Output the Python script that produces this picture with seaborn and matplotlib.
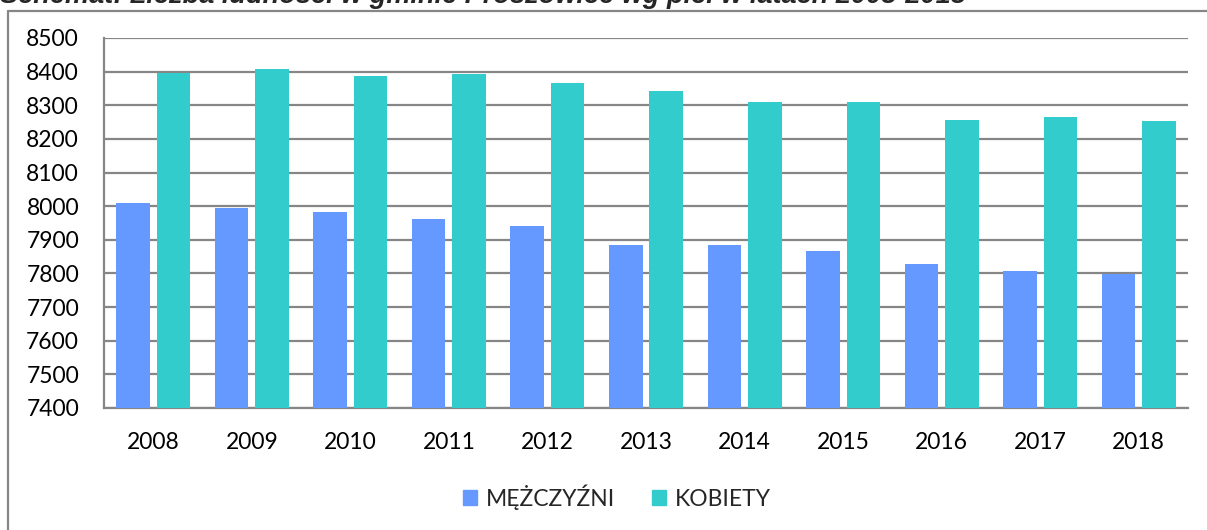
import numpy as np
import pandas as pd
import matplotlib.pyplot as plt
import seaborn as sns
from matplotlib.lines import Line2D

# dane
lata = ['2008', '2009', '2010', '2011', '2012', '2013', '2014', '2015', '2016', '2017', '2018']
mezczyzni = [8009, 7994, 7982, 7961, 7940, 7885, 7885, 7868, 7827, 7806, 7799]
kobiety = [8397, 8407, 8387, 8393, 8367, 8341, 8309, 8311, 8255, 8266, 8254]
serie = ['MĘŻCZYŹNI', 'KOBIETY']
kolory = ['#6699FF', '#33CCCC']

df = pd.DataFrame({'rok': lata * 2,
                   'plec': [serie[0]] * len(lata) + [serie[1]] * len(lata),
                   'liczba': mezczyzni + kobiety})

sns.set_style('white')
plt.rcParams['font.family'] = ['Lato', 'DejaVu Sans']

fig = plt.figure(figsize=(12.07, 5.30), dpi=100)
ax = fig.add_axes([104 / 1207, 122 / 530, (1188 - 104) / 1207, (408 - 38) / 530])

sns.barplot(data=df, x='rok', y='liczba', hue='plec', palette=kolory,
            width=0.82, gap=0.17, ax=ax, legend=True, saturation=1,
            linewidth=0, zorder=3)

# oś y od 7400 - slupki od dolu osi
ax.set_ylim(7400, 8500)
ax.set_xlim(-0.5, len(lata) - 0.5)
ax.set_yticks(np.arange(7400, 8501, 100))
ax.yaxis.grid(True, color='#868686', linewidth=1.6, zorder=0)
ax.set_axisbelow(True)
ax.set_xlabel('')
ax.set_ylabel('')
ax.tick_params(axis='both', length=0, labelsize=16.5, colors='black')
ax.tick_params(axis='x', pad=17)
ax.tick_params(axis='y', pad=18)
for s in ['top', 'right']:
    ax.spines[s].set_visible(False)
for s in ['left', 'bottom']:
    ax.spines[s].set_color('#868686')
    ax.spines[s].set_linewidth(1.6)

ax.get_legend().remove()
uchwyty = [plt.Rectangle((0, 0), 1, 1, color=c) for c in kolory]
fig.legend(uchwyty, serie, loc='center', bbox_to_anchor=(617 / 1207, 1 - 497 / 530),
           ncol=2, frameon=False, fontsize=16.5, handlelength=0.6, handleheight=0.6,
           handletextpad=0.4, columnspacing=1.6)

# ramka wokol wykresu
fig.add_artist(Line2D([7.5 / 1207, 7.5 / 1207], [0, 1 - 11 / 530], color='#868686', lw=1.6))
fig.add_artist(Line2D([7.5 / 1207, 1], [1 - 11 / 530, 1 - 11 / 530], color='#868686', lw=1.6))

# tytul - uciety u gory
fig.text(0.0, 1 - 3 / 530, 'Schemat: Liczba ludności w gminie Proszowice wg płci w latach 2008-2018',
         fontsize=19.5, fontweight='bold', fontstyle='italic', family='Liberation Sans',
         va='baseline', ha='left')

fig.savefig('out.png', dpi=100)
